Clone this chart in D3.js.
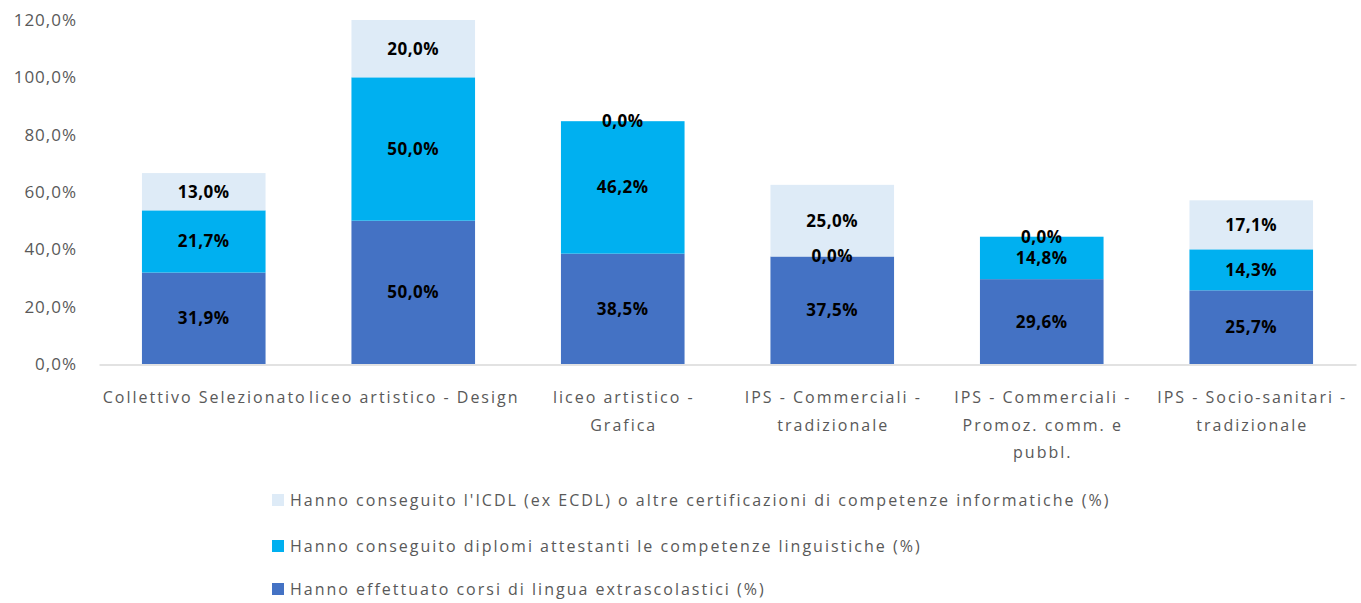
<!DOCTYPE html>
<html>
<head>
<meta charset="utf-8">
<script src="https://cdn.jsdelivr.net/npm/d3@7"></script>
<style>
  body { margin: 0; background: #fff; }
  text { font-family: "Open Sans", "Noto Sans", sans-serif; }
</style>
</head>
<body>
<div id="chart"></div>
<script>
// categories, each split in the lines shown under the bars
var categories = [
  ["Collettivo Selezionato"],
  ["liceo artistico - Design"],
  ["liceo artistico -", "Grafica"],
  ["IPS - Commerciali -", "tradizionale"],
  ["IPS - Commerciali -", "Promoz. comm.  e", "pubbl."],
  ["IPS - Socio-sanitari -", "tradizionale"]
];
var seriesNames = [
  "Hanno effettuato corsi di lingua extrascolastici (%)",
  "Hanno conseguito diplomi attestanti le competenze linguistiche (%)",
  "Hanno conseguito l'ICDL (ex ECDL) o altre certificazioni di competenze informatiche (%)"
];
var corsiLingua   = [31.9, 50.0, 38.5, 37.5, 29.6, 25.7];
var diplomiLingua = [21.7, 50.0, 46.2, 0.0, 14.8, 14.3];
var certInfo      = [13.0, 20.0, 0.0, 25.0, 0.0, 17.1];
var yTicks = [0, 20, 40, 60, 80, 100, 120];

function init(){
  var W = 1361, H = 603;
  var svg = d3.select("#chart")
    .append("svg")
      .attr("width", W)
      .attr("height", H);

  var colors = ["#4472c4", "#00b0f0", "#deebf7"];
  var pct = function(v){ return d3.format(".1f")(v).replace(".", ",") + "%"; };

  // building rows for the stack
  var data = categories.map(function(c, i){
    return { idx: i, s0: corsiLingua[i], s1: diplomiLingua[i], s2: certInfo[i] };
  });
  var stacked = d3.stack().keys(["s0", "s1", "s2"])(data);

  var x = d3.scaleBand()
    .domain(d3.range(categories.length))
    .range([99, 1356])
    .paddingInner(0.41)
    .paddingOuter(0.205);

  var y = d3.scaleLinear()
    .domain([0, 120])
    .range([364, 20]);

  // y axis labels (no line, no ticks)
  var yAxis = svg.append("g")
    .attr("transform", "translate(77,0)")
    .call(d3.axisLeft(y).tickValues(yTicks).tickSize(0).tickPadding(0).tickFormat(pct));
  yAxis.select(".domain").remove();
  yAxis.selectAll("text")
    .attr("fill", "#595959")
    .style("font-size", "17px")
    .style("letter-spacing", "1px")
    .style("font-family", "'Open Sans', sans-serif");

  // bars
  svg.selectAll("g.layer")
    .data(stacked)
    .enter()
    .append("g")
      .attr("class", "layer")
      .attr("fill", function(d, i){ return colors[i]; })
    .selectAll("rect")
    .data(function(d){ return d; })
    .enter()
    .append("rect")
      .attr("x", function(d){ return x(d.data.idx); })
      .attr("width", x.bandwidth())
      .attr("y", function(d){ return y(d[1]); })
      .attr("height", function(d){ return y(d[0]) - y(d[1]); });

  // x axis line
  var xAxis = svg.append("g")
    .attr("transform", "translate(0," + 364.5 + ")")
    .call(d3.axisBottom(x).tickSize(0).tickFormat(""));
  xAxis.select(".domain").attr("stroke", "#d9d9d9").attr("stroke-width", 1.5);

  // category labels
  var catG = svg.append("g");
  categories.forEach(function(lines, i){
    var t = catG.append("text")
      .attr("text-anchor", "middle")
      .attr("fill", "#595959")
      .style("font-size", "16px")
      .style("letter-spacing", "2px");
    lines.forEach(function(l, j){
      t.append("tspan")
        .attr("x", x(i) + x.bandwidth() / 2 + 1)
        .attr("y", 403 + j * 27.5)
        .text(l);
    });
  });

  // value labels
  stacked.forEach(function(layer){
    svg.append("g").selectAll("text")
      .data(layer)
      .enter()
      .append("text")
        .attr("x", function(d){ return x(d.data.idx) + x.bandwidth() / 2; })
        .attr("y", function(d){ return (y(d[0]) + y(d[1])) / 2; })
        .attr("dy", "0.35em")
        .attr("text-anchor", "middle")
        .attr("fill", "#000")
        .style("font-size", "17px")
        .style("font-weight", "bold")
        .style("letter-spacing", "0.5px")
        .text(function(d){ return pct(d[1] - d[0]); });
  });

  // legend, top series first
  var legendY = [500, 546, 589];
  var order = [2, 1, 0];
  order.forEach(function(s, k){
    svg.append("rect")
      .attr("x", 272)
      .attr("y", legendY[k] - 6)
      .attr("width", 12)
      .attr("height", 12)
      .attr("fill", colors[s]);
    svg.append("text")
      .attr("x", 290)
      .attr("y", legendY[k])
      .attr("dy", "0.35em")
      .attr("fill", "#595959")
      .style("font-size", "16px")
      .style("letter-spacing", "2px")
      .text(seriesNames[s]);
  });
}
window.onload = init;
</script>
</body>
</html>
